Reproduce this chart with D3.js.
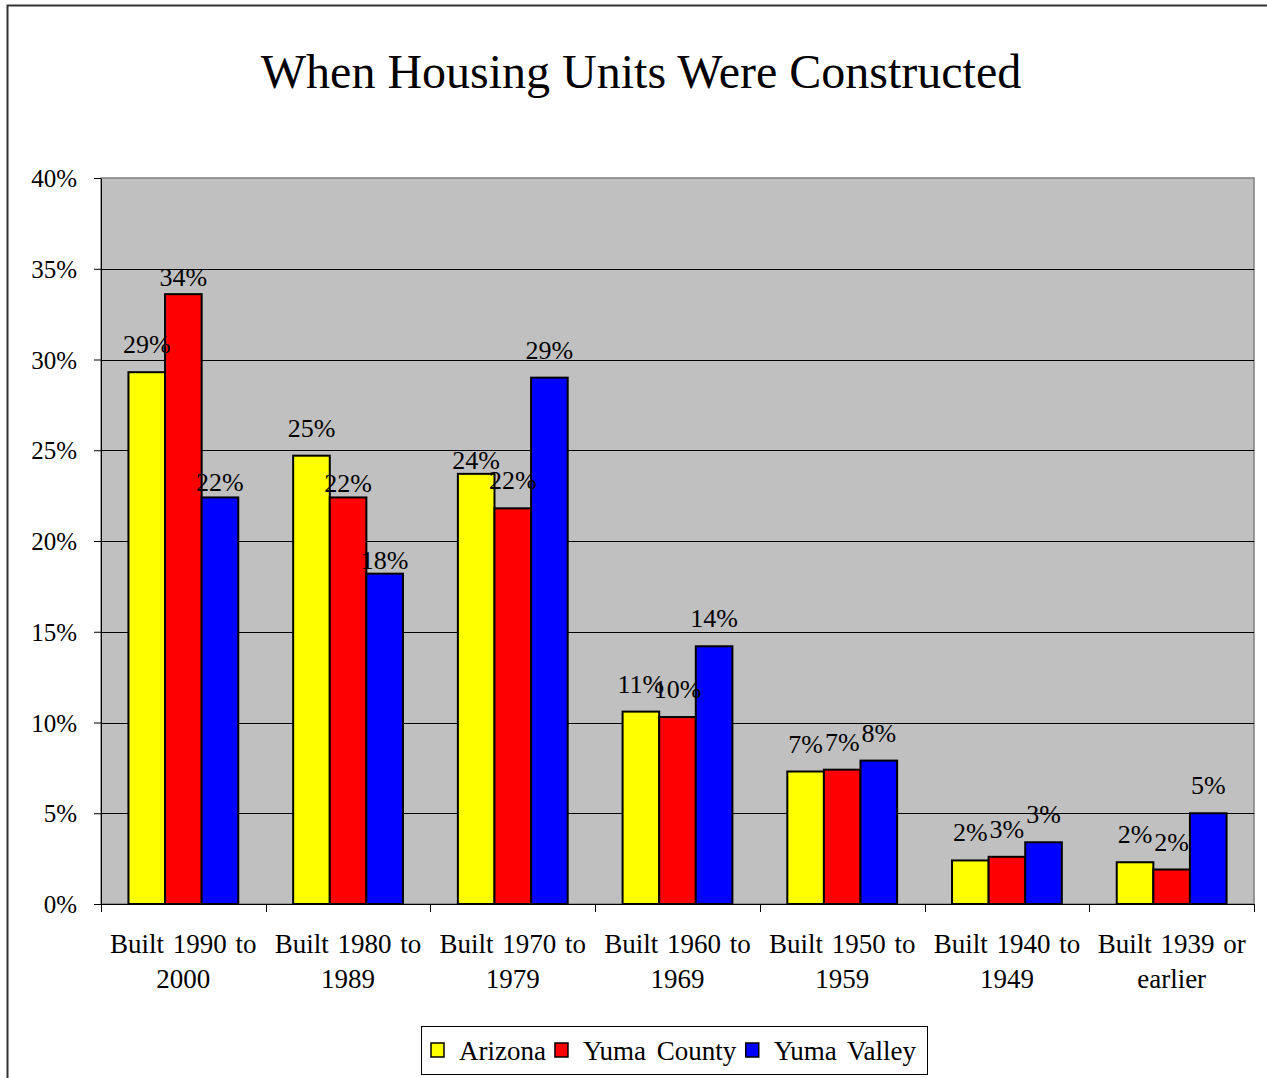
<!DOCTYPE html>
<html>
<head>
<meta charset="utf-8">
<script src="https://cdn.jsdelivr.net/npm/d3@7"></script>
<style>
  body { margin: 0; background: #fff; }
  svg text { font-family: "Liberation Serif", "Times New Roman", serif; fill: #000; }
</style>
</head>
<body>
<svg id="chart" width="1267" height="1078"></svg>
<script>
// ---- data ----
const categories = [
  "Built 1990 to 2000",
  "Built 1980 to 1989",
  "Built 1970 to 1979",
  "Built 1960 to 1969",
  "Built 1950 to 1959",
  "Built 1940 to 1949",
  "Built 1939 or earlier"
];
// two-line wrapping of each category label
const categoryLines = [
  ["Built 1990 to", "2000"],
  ["Built 1980 to", "1989"],
  ["Built 1970 to", "1979"],
  ["Built 1960 to", "1969"],
  ["Built 1950 to", "1959"],
  ["Built 1940 to", "1949"],
  ["Built 1939 or", "earlier"]
];
const seriesNames = ["Arizona", "Yuma County", "Yuma Valley"];
const arizona    = [29.3, 24.7, 23.7, 10.6, 7.3, 2.4, 2.3];
const yumaCounty = [33.6, 22.4, 21.8, 10.3, 7.4, 2.6, 1.9];
const yumaValley = [22.4, 18.2, 29.0, 14.2, 7.9, 3.4, 5.0];
const yTicks = [0, 5, 10, 15, 20, 25, 30, 35, 40];

// ---- layout / style ----
const seriesColors = ["#FFFF00", "#FF0000", "#0000FF"];
// some value labels sit lower, closer to their bar (pixels)
const labelDrop = [
  [0, 0, 14, 0, 0, 0, 0],
  [11, 14, 0, 0, 0, 0, 0],
  [13, 14, 0, 0, 0, 0, 0]
];
const plot = { left: 101, right: 1254, top: 178, bottom: 904 };

const seriesValues = [arizona, yumaCounty, yumaValley];
const svg = d3.select("#chart");

// outer chart frame (left and top edges)
svg.append("path")
  .attr("d", "M7.5,1078 V5.5 H1267")
  .attr("fill", "none").attr("stroke", "#333").attr("stroke-width", 2);

// title
svg.append("text")
  .attr("x", 641).attr("y", 88)
  .attr("text-anchor", "middle")
  .style("font-size", "48px")
  .text("When Housing Units Were Constructed");

// scales
const y = d3.scaleLinear().domain([0, 40]).range([plot.bottom, plot.top]);
const x0 = d3.scaleBand().domain(categories).range([plot.left, plot.right]).padding(0);
const x1 = d3.scaleBand().domain(seriesNames).range([0, x0.bandwidth()])
  .paddingInner(0).paddingOuter(0.75);

// plot area
svg.append("rect")
  .attr("x", plot.left).attr("y", plot.top)
  .attr("width", plot.right - plot.left).attr("height", plot.bottom - plot.top)
  .attr("fill", "#C0C0C0").attr("stroke", "#808080").attr("stroke-width", 1.5);

// gridlines
svg.append("g").selectAll("line")
  .data(yTicks.filter(t => t > 0 && t < 40))
  .join("line")
  .attr("x1", plot.left).attr("x2", plot.right)
  .attr("y1", d => Math.round(y(d)) + 0.5).attr("y2", d => Math.round(y(d)) + 0.5)
  .attr("stroke", "#000").attr("stroke-width", 1);

// y axis
const yAxis = svg.append("g")
  .attr("transform", `translate(${plot.left},0)`)
  .call(d3.axisLeft(y).tickValues(yTicks).tickFormat(d => d + "%")
    .tickSize(7).tickSizeOuter(0).tickPadding(17));
yAxis.attr("font-family", null).attr("font-size", null);
yAxis.select(".domain").attr("stroke", "#000");
yAxis.selectAll(".tick line").attr("stroke", "#000");
yAxis.selectAll(".tick text")
  .style("font-size", "25px")
  .attr("dy", "0.34em");

// x axis line with ticks at category boundaries
const xAxisG = svg.append("g");
xAxisG.append("line")
  .attr("x1", plot.left).attr("x2", plot.right)
  .attr("y1", plot.bottom + 0.5).attr("y2", plot.bottom + 0.5)
  .attr("stroke", "#000");
const boundaries = categories.map(c => x0(c)).concat([plot.right]);
xAxisG.selectAll("line.tk").data(boundaries).join("line")
  .attr("class", "tk")
  .attr("x1", d => Math.round(d) + 0.5).attr("x2", d => Math.round(d) + 0.5)
  .attr("y1", plot.bottom).attr("y2", plot.bottom + 8)
  .attr("stroke", "#000");

// category labels
const catG = svg.append("g").selectAll("text")
  .data(categories).join("text")
  .attr("text-anchor", "middle")
  .attr("x", d => x0(d) + x0.bandwidth() / 2)
  .attr("y", 953)
  .style("font-size", "27px")
  .style("word-spacing", "2px");
catG.selectAll("tspan")
  .data((d, i) => categoryLines[i])
  .join("tspan")
  .attr("x", function () { return d3.select(this.parentNode).attr("x"); })
  .attr("dy", (d, j) => j === 0 ? 0 : 35)
  .text(d => d);

// bars
const barG = svg.append("g");
seriesNames.forEach((s, si) => {
  const vals = seriesValues[si];
  barG.append("g").selectAll("rect")
    .data(categories.map((c, ci) => ({ c, v: vals[ci] })))
    .join("rect")
    .attr("x", d => x0(d.c) + x1(s))
    .attr("y", d => y(d.v))
    .attr("width", x1.bandwidth())
    .attr("height", d => y(0) - y(d.v))
    .attr("fill", seriesColors[si])
    .attr("stroke", "#000").attr("stroke-width", 2);
});

// value labels
const labG = svg.append("g");
seriesNames.forEach((s, si) => {
  const vals = seriesValues[si];
  labG.append("g").selectAll("text")
    .data(categories.map((c, ci) => ({ c, ci, v: vals[ci] })))
    .join("text")
    .attr("text-anchor", "middle")
    .attr("x", d => x0(d.c) + x1(s) + x1.bandwidth() / 2)
    .attr("y", d => y(d.v) - 19 + labelDrop[si][d.ci])
    .style("font-size", "26px")
    .text(d => Math.round(d.v) + "%");
});

// legend
const legend = svg.append("g");
const legBox = legend.append("rect")
  .attr("x", 421.5).attr("y", 1026.5).attr("height", 48)
  .attr("fill", "#fff").attr("stroke", "#000").attr("stroke-width", 1);
let lx = 431;
seriesNames.forEach((s, si) => {
  legend.append("rect")
    .attr("x", lx).attr("y", 1043).attr("width", 13).attr("height", 14)
    .attr("fill", seriesColors[si]).attr("stroke", "#000").attr("stroke-width", 1.5);
  const t = legend.append("text")
    .attr("x", lx + 28).attr("y", 1060)
    .style("font-size", "27px")
    .style("word-spacing", "4px")
    .text(s);
  lx = lx + 28 + t.node().getBBox().width + 9;
});
legBox.attr("width", 927 - 421);
</script>
</body>
</html>
